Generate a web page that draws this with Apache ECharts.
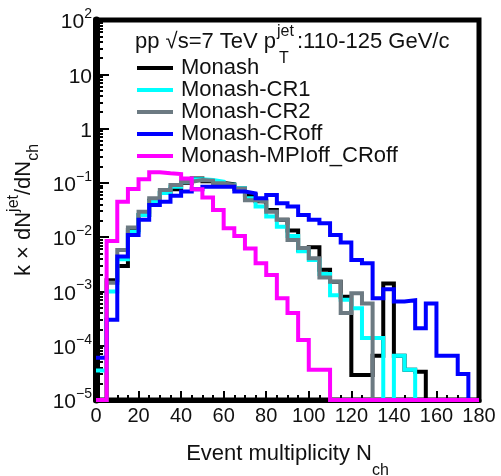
<!DOCTYPE html>
<html><head><meta charset="utf-8">
<script src="https://cdn.jsdelivr.net/npm/echarts@6/dist/echarts.min.js"></script>
<style>html,body{margin:0;padding:0;background:#fff}#c{width:501px;height:476px}</style>
</head><body><div id="c"></div>
<script>
// ---- data ----
const binEdges = [0,5,10,15,20,25,30,35,40,45,50,55,60,65,70,75,80,85,90,95,100,105,110,115,120,125,130,135,140,145,150,155,160,165,170,175,180];
const xTickValues = [0,20,40,60,80,100,120,140,160,180];
const xTickLabels = ['0','20','40','60','80','100','120','140','160','180'];
const yTickExps = [-5,-4,-3,-2,-1,0,1,2];
const yTickLabels = ['{b|10}{s|−5}','{b|10}{s|−4}','{b|10}{s|−3}','{b|10}{s|−2}','{b|10}{s|−1}','{b|1}','{b|10}','{b|10}{s|2}'];
const seriesNames = ['Monash','Monash-CR1','Monash-CR2','Monash-CRoff','Monash-MPIoff_CRoff'];
const seriesColors = ['#000000','#00ffff','#6c7a82','#0000ff','#ff00ff'];

const monash = [0, 1.6e-3, 2.95e-3, 0.0135, 0.0256, 0.047, 0.066, 0.076, 0.10, 0.12, 0.107, 0.10, 0.094, 0.079, 0.060, 0.046, 0.0317, 0.021, 0.0132, 0.0058, 0.0065, 0.0025, 0.0015, 8.0e-4, 2.9e-5, 2.9e-5, 6.5e-5, 1.4e-3, 6.5e-5, 3.6e-5, 3.3e-5, 0, 0, 0, 0, 0];
const monashCR1 = [3.5e-5, 1.0e-3, 3.9e-3, 0.0126, 0.0256, 0.045, 0.065, 0.085, 0.105, 0.116, 0.113, 0.105, 0.092, 0.08, 0.052, 0.0365, 0.024, 0.0155, 0.0105, 0.0055, 0.0038, 0.0021, 8.5e-4, 7.0e-4, 4.9e-4, 1.38e-4, 1.38e-4, 0, 6.5e-5, 3.6e-5, 0, 0, 0, 0, 0, 0];
const monashCR2 = [0, 1.45e-3, 5.8e-3, 0.015, 0.0295, 0.052, 0.074, 0.091, 0.105, 0.113, 0.11, 0.098, 0.091, 0.079, 0.048, 0.045, 0.0295, 0.021, 0.0089, 0.0063, 0.0041, 0.0018, 0.0015, 4.0e-4, 9.3e-4, 6.0e-4, 0, 0, 0, 0, 0, 0, 0, 0, 0, 0];
const monashCRoff = [6e-5, 3.0e-4, 4.4e-3, 0.011, 0.021, 0.039, 0.045, 0.058, 0.069, 0.076, 0.085, 0.085, 0.085, 0.069, 0.064, 0.052, 0.060, 0.042, 0.0365, 0.0257, 0.021, 0.018, 0.011, 0.008, 0.0038, 0.0033, 7.5e-4, 1.1e-3, 6.5e-4, 6.9e-4, 2.1e-4, 6.0e-4, 6.5e-5, 6.5e-5, 3.0e-5, 0];
const monashMPIoffCRoff = [0, 0.0085, 0.045, 0.077, 0.117, 0.157, 0.15, 0.145, 0.12, 0.076, 0.054, 0.0317, 0.0146, 0.0105, 0.0062, 0.0033, 0.0020, 7.5e-4, 4.0e-4, 1.28e-4, 3.6e-5, 3.6e-5, 0, 0, 0, 0, 0, 0, 0, 0, 0, 0, 0, 0, 0, 0];
const allSeries = [monash, monashCR1, monashCR2, monashCRoff, monashMPIoffCRoff];

const Y_MIN = 1e-5, Y_MAX = 1e2;
const FONT = '"Liberation Sans", Arial, sans-serif';

// empty bins sit on the floor of the log axis
function toSteps(vals) {
  const pts = vals.map((v, i) => [binEdges[i], Math.max(v, Y_MIN)]);
  pts.push([binEdges[binEdges.length - 1], Math.max(vals[vals.length - 1], Y_MIN)]);
  return pts;
}

const chart = echarts.init(document.getElementById('c'), null, {renderer: 'canvas'});
chart.setOption({
  animation: false,
  backgroundColor: '#ffffff',
  grid: {left: 96, right: 22, top: 20, bottom: 76, show: true, borderColor: '#000', borderWidth: 5,
         containLabel: false, outerBoundsMode: 'none'},
  xAxis: {
    type: 'value', min: 0, max: 180, interval: 20,
    axisLine: {show: true, lineStyle: {color: '#000', width: 5}},
    axisTick: {show: true, inside: true, length: 9, lineStyle: {color: '#000', width: 2}},
    minorTick: {show: true, splitNumber: 4, length: 5, lineStyle: {color: '#000', width: 2}},
    splitLine: {show: false},
    axisLabel: {fontSize: 20, fontFamily: FONT, color: '#111', margin: 6,
      formatter: v => { const i = xTickValues.indexOf(v); return i >= 0 ? xTickLabels[i] : ''; }},
    name: '{m|Event multiplicity N}{sub|ch}', nameLocation: 'middle', nameGap: 29,
    nameTextStyle: {fontFamily: FONT, color: '#111',
      rich: {m: {fontSize: 22, fontFamily: FONT, color: '#111', lineHeight: 50, verticalAlign: 'middle'},
             sub: {fontSize: 16, fontFamily: FONT, color: '#111', lineHeight: 16, verticalAlign: 'bottom'}}}
  },
  yAxis: {
    type: 'log', logBase: 10, min: Y_MIN, max: Y_MAX, splitNumber: 7,
    axisLine: {show: true, lineStyle: {color: '#000', width: 7}},
    axisTick: {show: true, inside: true, length: 13, lineStyle: {color: '#000', width: 2}},
    minorTick: {show: true, splitNumber: 9, length: 7, lineStyle: {color: '#000', width: 2}},
    splitLine: {show: false},
    axisLabel: {margin: 4, fontFamily: FONT, color: '#111',
      formatter: v => { const e = Math.round(Math.log10(v)); const i = yTickExps.indexOf(e); return i >= 0 ? yTickLabels[i] : ''; },
      rich: {b: {fontSize: 21, fontFamily: FONT, color: '#111', lineHeight: 26, verticalAlign: 'bottom'},
             s: {fontSize: 14, fontFamily: FONT, color: '#111', lineHeight: 14, verticalAlign: 'top'}}},
    name: '{m|k × dN}{sup|jet}{m|/dN}{sub|ch}', nameLocation: 'middle', nameGap: 48, nameRotate: 90,
    nameTextStyle: {fontFamily: FONT, color: '#111',
      rich: {m: {fontSize: 22, fontFamily: FONT, color: '#111', lineHeight: 36, verticalAlign: 'middle'},
             sup: {fontSize: 16, fontFamily: FONT, color: '#111', lineHeight: 16, verticalAlign: 'top'},
             sub: {fontSize: 16, fontFamily: FONT, color: '#111', lineHeight: 16, verticalAlign: 'bottom'}}}
  },
  legend: {
    orient: 'vertical', left: 137, top: 57, itemWidth: 36, itemHeight: 4, itemGap: 0, icon: 'rect',
    padding: 0, selectedMode: false,
    textStyle: {fontSize: 22, fontFamily: FONT, color: '#111', padding: [0, 0, 0, 3]},
    data: seriesNames
  },
  graphic: [
    {type: 'text', left: 135, top: 31, style: {text: 'pp √s=7 TeV p', font: '22px ' + FONT, fill: '#111'}},
    {type: 'text', left: 277, top: 24, style: {text: 'jet', font: '16px ' + FONT, fill: '#111'}},
    {type: 'text', left: 279, top: 51, style: {text: 'T', font: '16px ' + FONT, fill: '#111'}},
    {type: 'text', left: 297, top: 31, style: {text: ':110-125 GeV/c', font: '22px ' + FONT, fill: '#111'}}
  ],
  series: seriesNames.map((name, k) => ({
    name: name, type: 'line', step: 'end', showSymbol: false, symbol: 'none',
    data: toSteps(allSeries[k]),
    lineStyle: {color: seriesColors[k], width: 4, join: 'miter'},
    itemStyle: {color: seriesColors[k]},
    z: 3 + k
  }))
});
</script>
</body></html>
